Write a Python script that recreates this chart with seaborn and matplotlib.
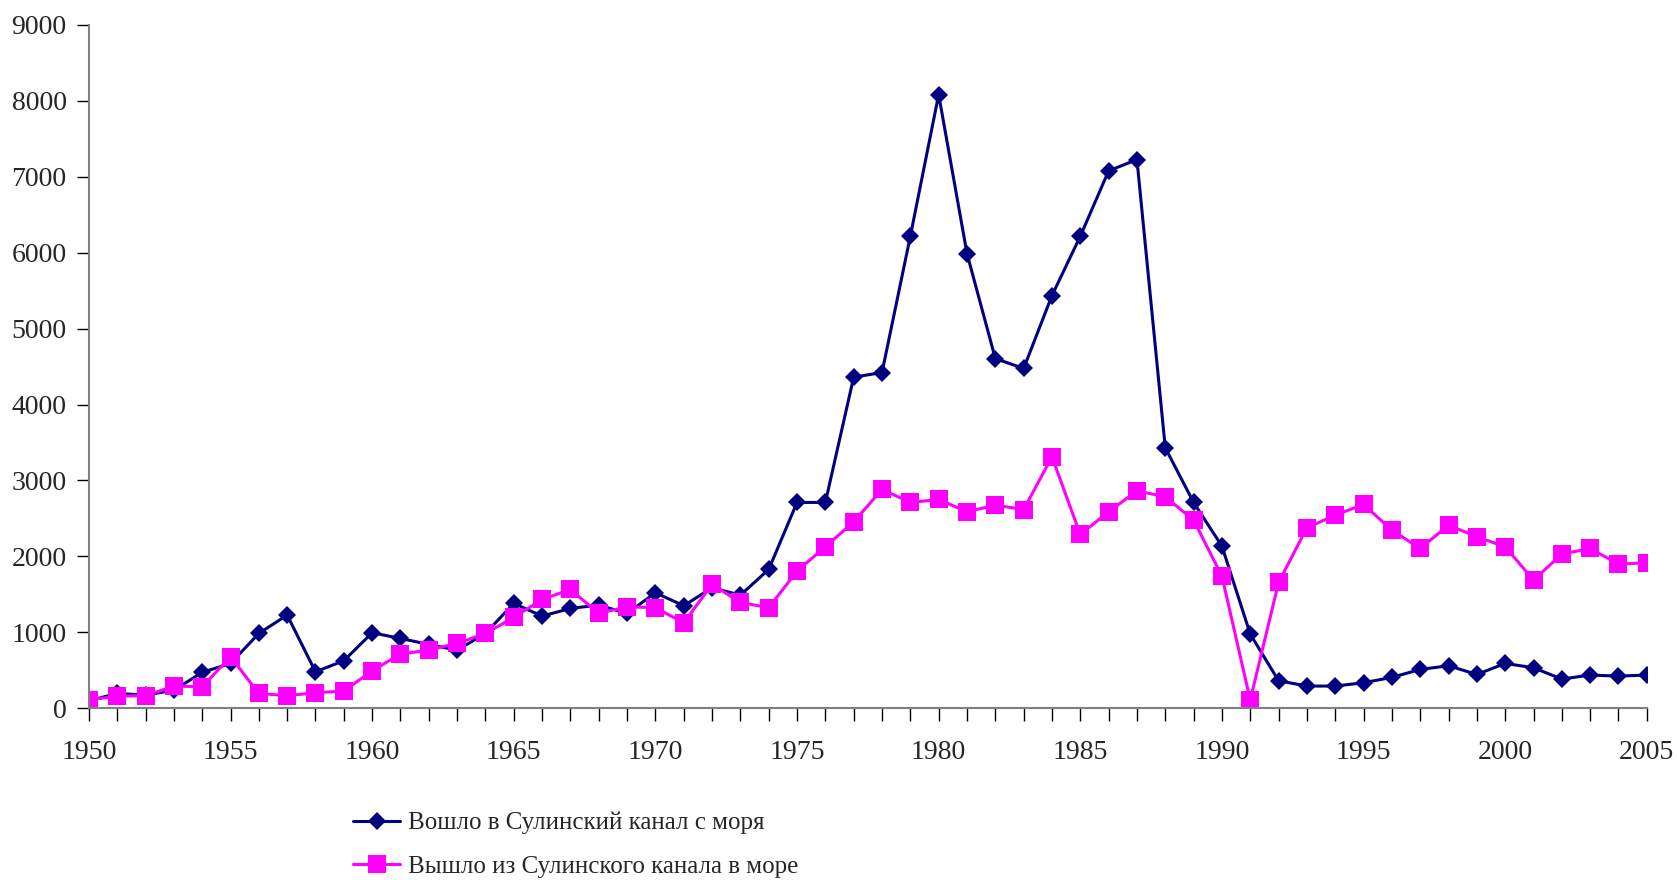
import numpy as np
import pandas as pd
import matplotlib
matplotlib.use("Agg")
import matplotlib.pyplot as plt
from matplotlib.ticker import MultipleLocator
import seaborn as sns

years = list(range(1950, 2006))

# Вошло в Сулинский канал с моря
entered = [100, 197, 175, 240, 474, 592, 987, 1228, 482, 627,
           996, 921, 842, 767, 987, 1382, 1215, 1316, 1360, 1250,
           1522, 1351, 1588, 1491, 1829, 2711, 2711, 4360, 4421, 6215,
           8079, 5987, 4605, 4474, 5434, 6215, 7075, 7224, 3430, 2711,
           2136, 978, 364, 294, 294, 338, 408, 513, 561, 447,
           592, 535, 386, 439, 425, 439]

# Вышло из Сулинского канала в море
exited = [110, 162, 167, 294, 285, 680, 197, 167, 206, 228,
          496, 715, 767, 855, 987, 1197, 1434, 1566, 1250, 1338,
          1325, 1127, 1632, 1395, 1325, 1807, 2127, 2456, 2882, 2711,
          2750, 2588, 2675, 2618, 3311, 2289, 2588, 2864, 2785, 2478,
          1741, 110, 1658, 2377, 2544, 2684, 2346, 2105, 2412, 2259,
          2127, 1689, 2031, 2105, 1899, 1917]

label_in = "Вошло в Сулинский канал с моря"
label_out = "Вышло из Сулинского канала в море"

df = pd.DataFrame({"year": years, "in": entered, "out": exited})

sns.set_style("white")
plt.rcParams["font.family"] = ["Liberation Serif", "DejaVu Serif"]

fig = plt.figure(figsize=(16.77, 8.80), dpi=100)
ax = fig.add_axes([0.053, 0.195, 0.929, 0.777])

sns.lineplot(data=df, x="year", y="in", ax=ax, color="#000080", lw=2.2,
             marker="D", markersize=9, markeredgewidth=0, label=label_in)
sns.lineplot(data=df, x="year", y="out", ax=ax, color="#FF00FF", lw=2.2,
             marker="s", markersize=13, markeredgewidth=0, label=label_out)

ax.set_xlim(1950, 2005)
ax.set_ylim(0, 9000)
ax.xaxis.set_major_locator(MultipleLocator(5))
ax.xaxis.set_minor_locator(MultipleLocator(1))
ax.yaxis.set_major_locator(MultipleLocator(1000))
ax.set_xlabel("")
ax.set_ylabel("")

for s in ["top", "right"]:
    ax.spines[s].set_visible(False)
for s in ["left", "bottom"]:
    ax.spines[s].set_color("#808080")
    ax.spines[s].set_linewidth(1.5)
ax.tick_params(axis="both", which="both", direction="out", color="#000000",
               labelsize=20, bottom=True, left=True)
ax.tick_params(axis="x", which="major", length=9, width=1, pad=14)
ax.tick_params(axis="x", which="minor", length=9, width=1)
ax.tick_params(axis="y", which="major", length=9, width=1, pad=7)

ax.legend(loc="upper left", bbox_to_anchor=(0.197, 0.103),
          bbox_transform=fig.transFigure, frameon=False, fontsize=18,
          handlelength=1.9, labelspacing=0.85, handletextpad=0.3)

fig.savefig("out.png", dpi=100)
